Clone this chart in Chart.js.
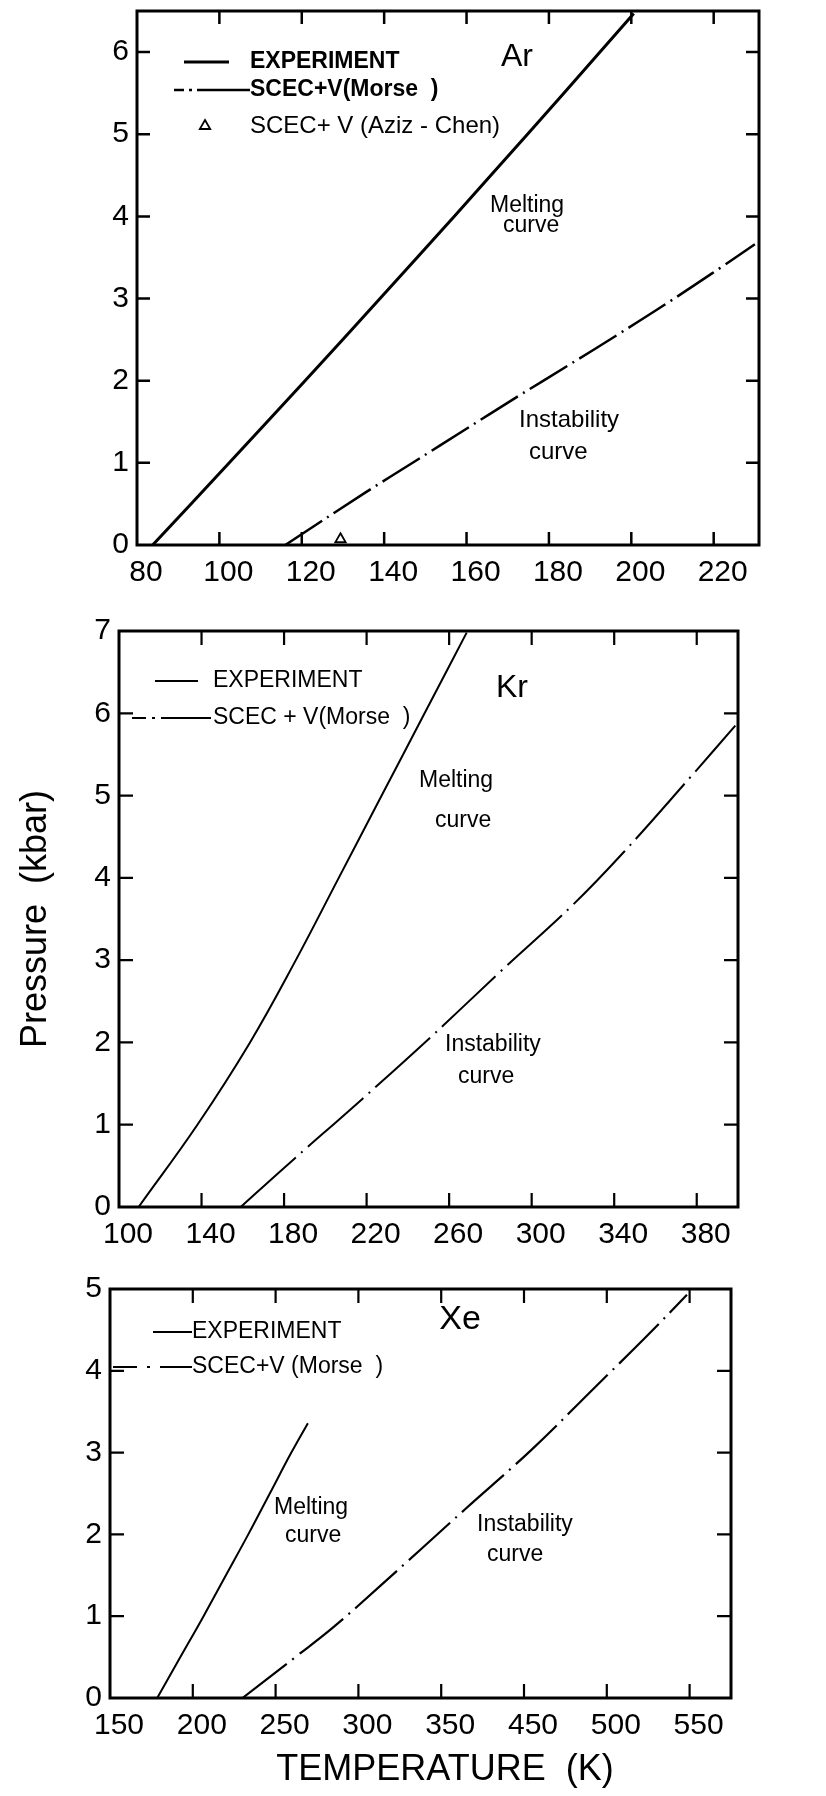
<!DOCTYPE html>
<html><head><meta charset="utf-8">
<script src="https://cdn.jsdelivr.net/npm/chart.js@4.4.1/dist/chart.umd.min.js"></script>
<style>
html,body{margin:0;padding:0;background:#fff;}
body{width:826px;height:1796px;position:relative;overflow:hidden;}
canvas{position:absolute;left:0;}
</style></head><body>
<canvas id="ar" width="826" height="610" style="top:0px"></canvas>
<canvas id="kr" width="826" height="640" style="top:610px"></canvas>
<canvas id="xe" width="826" height="546" style="top:1250px"></canvas>
<script>
// ---------- Ar ----------
const arMeltT = [83.8, 102.4, 120.8, 139.0, 157.0, 174.8, 192.4, 200.6];
const arMeltP = [0, 1, 2, 3, 4, 5, 6, 6.47];
const arInstT = [116, 135.5, 147.5, 159.5, 172.5, 184.5, 197, 209.5, 221.5, 230];
const arInstP = [0, 0.64, 1.02, 1.4, 1.81, 2.18, 2.57, 2.97, 3.37, 3.66];
const arAzizT = [129.4];
const arAzizP = [0.07];
const arXTicks = [80, 100, 120, 140, 160, 180, 200, 220];
const arYTicks = [0, 1, 2, 3, 4, 5, 6];
// ---------- Kr ----------
const krMeltT = [109.5, 138, 163.5, 185.7, 206.5, 227.3, 248.1, 268.5];
const krMeltP = [0, 1, 2, 3, 4, 5, 6, 6.98];
const krInstT = [159, 179.3, 218.2, 250.9, 284.8, 319.9, 344.9, 377.5, 398.7];
const krInstP = [0, 0.46, 1.32, 2.06, 2.86, 3.67, 4.32, 5.24, 5.85];
const krXTicks = [100, 140, 180, 220, 260, 300, 340, 380];
const krYTicks = [0, 1, 2, 3, 4, 5, 6, 7];
// ---------- Xe ----------
const xeMeltT = [178.5, 192.5, 206.5, 220, 233.5, 246.5, 259.5, 269.5];
const xeMeltP = [0, 0.5, 1, 1.5, 2, 2.5, 3, 3.36];
const xeInstT = [230, 261.9, 285.1, 313.7, 365.1, 404.8, 442.9, 473, 498.4];
const xeInstP = [0, 0.5, 0.87, 1.38, 2.32, 3.04, 3.8, 4.4, 4.93];
const xeXTicks = [150, 200, 250, 300, 350, 400, 450, 500];
const xeXTickLabels = ['150', '200', '250', '300', '350', '450', '500', '550'];
const xeYTicks = [0, 1, 2, 3, 4, 5];

const FONT = "'Liberation Sans', Arial, sans-serif";
Chart.defaults.font.family = FONT;
Chart.defaults.color = '#000';

const pts = (xs, ys) => xs.map((x, i) => ({x: x, y: ys[i]}));

const frameTicks = {
  id: 'frameTicks',
  afterDatasetsDraw(chart, args, o) {
    const {ctx, chartArea: a, scales: {x, y}} = chart;
    ctx.save();
    ctx.strokeStyle = '#000';
    ctx.lineWidth = o.tickWidth;
    ctx.beginPath();
    x.ticks.forEach(t => {
      if (t.value <= x.min || t.value >= x.max) return;
      const p = x.getPixelForValue(t.value);
      ctx.moveTo(p, a.bottom); ctx.lineTo(p, a.bottom - o.len);
      ctx.moveTo(p, a.top); ctx.lineTo(p, a.top + o.len);
    });
    y.ticks.forEach(t => {
      if (t.value <= y.min || t.value >= y.max) return;
      const p = y.getPixelForValue(t.value);
      ctx.moveTo(a.left, p); ctx.lineTo(a.left + o.len, p);
      ctx.moveTo(a.right, p); ctx.lineTo(a.right - o.len, p);
    });
    ctx.stroke();
    ctx.lineWidth = o.frameWidth;
    ctx.strokeRect(a.left, a.top, a.right - a.left, a.bottom - a.top);
    ctx.restore();
  }
};

const notes = {
  id: 'notes',
  afterDraw(chart, args, o) {
    const {ctx, chartArea: a} = chart;
    ctx.save();
    ctx.textBaseline = 'middle';
    ctx.fillStyle = '#000';
    ctx.strokeStyle = '#000';
    (o.legend || []).forEach(it => {
      const ds = chart.data.datasets[it.ds];
      const y = a.top + it.dy;
      if (it.marker !== undefined) {
        ctx.fillStyle = '#fff';
        ctx.lineWidth = ds.borderWidth;
        Chart.helpers.drawPoint(ctx, {pointStyle: ds.pointStyle, radius: ds.pointRadius, borderWidth: ds.borderWidth, rotation: 0}, a.left + it.marker, y);
        ctx.fillStyle = '#000';
      } else {
        ctx.lineWidth = ds.borderWidth;
        ctx.setLineDash(it.dash || []);
        ctx.beginPath();
        ctx.moveTo(a.left + it.seg[0], y);
        ctx.lineTo(a.left + it.seg[1], y);
        ctx.stroke();
        ctx.setLineDash([]);
      }
      ctx.font = it.font;
      ctx.textAlign = 'left';
      ctx.fillText(ds.label, a.left + it.text, y);
    });
    (o.texts || []).forEach(t => {
      ctx.font = t.font;
      ctx.textAlign = t.align || 'left';
      ctx.fillText(t.text, a.left + t.dx, a.top + t.dy);
    });
    ctx.restore();
  }
};

function xScale(min, max, tickVals, labels, h) {
  return {
    type: 'linear', min: min, max: max,
    afterBuildTicks: s => { s.ticks = tickVals.map(v => ({value: v})); },
    afterFit: s => { s.height = h; s.paddingLeft = 0; s.paddingRight = 0; },
    grid: {display: false, drawTicks: false},
    border: {display: false},
    ticks: {font: {size: 30}, color: '#000', padding: 10, labelOffset: 9,
            maxRotation: 0, autoSkip: false,
            callback: (v, i) => labels ? labels[i] : String(v)}
  };
}
function yScale(min, max, tickVals, w, title) {
  return {
    type: 'linear', min: min, max: max,
    afterBuildTicks: s => { s.ticks = tickVals.map(v => ({value: v})); },
    afterFit: s => { s.width = w; s.paddingTop = 0; s.paddingBottom = 0; },
    grid: {display: false, drawTicks: false},
    border: {display: false},
    ticks: {font: {size: 30}, color: '#000', padding: 8, autoSkip: false,
            callback: v => String(v)},
    title: title || {display: false}
  };
}
function lineDs(label, data, width, dash) {
  return {label: label, data: data, showLine: true, borderColor: '#000',
          backgroundColor: '#000', borderWidth: width, borderDash: dash || [],
          pointRadius: 0, tension: 0.4, fill: false};
}
function base(padding, plugOpts) {
  return {
    responsive: false, animation: false, devicePixelRatio: 1,
    layout: {padding: padding},
    plugins: {legend: {display: false}, tooltip: {enabled: false},
              frameTicks: plugOpts.frame, notes: plugOpts.notes}
  };
}

// ---------- Ar chart ----------
const arOpts = base({top: 11, left: 0, right: 67, bottom: 15}, {
  frame: {len: 13, tickWidth: 2.5, frameWidth: 3},
  notes: {
    legend: [
      {ds: 0, dy: 51, seg: [47, 92], text: 113, font: 'bold 23px ' + FONT},
      {ds: 1, dy: 79, seg: [37, 113], dash: [10, 5, 3, 5, 80], text: 113, font: 'bold 23px ' + FONT},
      {ds: 2, dy: 115, marker: 68, text: 113, font: '24px ' + FONT}
    ],
    texts: [
      {text: 'Ar', dx: 380, dy: 46, font: '32px ' + FONT, align: 'center'},
      {text: 'Melting', dx: 353, dy: 195, font: '23px ' + FONT},
      {text: 'curve', dx: 366, dy: 215, font: '23px ' + FONT},
      {text: 'Instability', dx: 382, dy: 409, font: '24px ' + FONT},
      {text: 'curve', dx: 392, dy: 441, font: '24px ' + FONT}
    ]
  }
});
arOpts.scales = {x: xScale(80, 231, arXTicks, null, 50), y: yScale(0, 6.5, arYTicks, 137)};
new Chart(document.getElementById('ar'), {
  type: 'scatter',
  data: {datasets: [
    lineDs('EXPERIMENT', pts(arMeltT, arMeltP), 3),
    lineDs('SCEC+V(Morse  )', pts(arInstT, arInstP), 2.5, [44, 6, 2, 6]),
    {label: 'SCEC+ V (Aziz - Chen)', data: pts(arAzizT, arAzizP), showLine: false,
     pointStyle: 'triangle', pointRadius: 6, borderWidth: 1.8,
     borderColor: '#000', backgroundColor: '#fff'}
  ]},
  options: arOpts,
  plugins: [frameTicks, notes]
});

// ---------- Kr chart ----------
const krOpts = base({top: 21, left: 0, right: 88, bottom: 3}, {
  frame: {len: 14, tickWidth: 2.2, frameWidth: 3},
  notes: {
    legend: [
      {ds: 0, dy: 50, seg: [36, 79], text: 94, font: '23px ' + FONT},
      {ds: 1, dy: 87, seg: [13, 92], dash: [14, 6, 3, 6, 80], text: 94, font: '23px ' + FONT}
    ],
    texts: [
      {text: 'Kr', dx: 393, dy: 57, font: '32px ' + FONT, align: 'center'},
      {text: 'Melting', dx: 300, dy: 150, font: '23px ' + FONT},
      {text: 'curve', dx: 316, dy: 190, font: '23px ' + FONT},
      {text: 'Instability', dx: 326, dy: 414, font: '23px ' + FONT},
      {text: 'curve', dx: 339, dy: 446, font: '23px ' + FONT}
    ]
  }
});
krOpts.scales = {
  x: xScale(100, 400, krXTicks, null, 40),
  y: yScale(0, 7, krYTicks, 119, {display: true, text: 'Pressure  (kbar)',
     font: {size: 36}, color: '#000', padding: {top: 14, bottom: 0}})
};
new Chart(document.getElementById('kr'), {
  type: 'scatter',
  data: {datasets: [
    lineDs('EXPERIMENT', pts(krMeltT, krMeltP), 2),
    lineDs('SCEC + V(Morse  )', pts(krInstT, krInstP), 2, [74, 7, 2, 7])
  ]},
  options: krOpts,
  plugins: [frameTicks, notes]
});

// ---------- Xe chart ----------
const xeOpts = base({top: 39, left: 0, right: 95, bottom: 38}, {
  frame: {len: 14, tickWidth: 2.2, frameWidth: 3},
  notes: {
    legend: [
      {ds: 0, dy: 43, seg: [43, 82], text: 82, font: '23px ' + FONT},
      {ds: 1, dy: 78, seg: [3, 82], dash: [24, 10, 3, 10, 60], text: 82, font: '23px ' + FONT}
    ],
    texts: [
      {text: 'Xe', dx: 350, dy: 31, font: '34px ' + FONT, align: 'center'},
      {text: 'Melting', dx: 164, dy: 219, font: '23px ' + FONT},
      {text: 'curve', dx: 175, dy: 247, font: '23px ' + FONT},
      {text: 'Instability', dx: 367, dy: 236, font: '23px ' + FONT},
      {text: 'curve', dx: 377, dy: 266, font: '23px ' + FONT},
      {text: 'TEMPERATURE  (K)', dx: 335, dy: 481, font: '36px ' + FONT, align: 'center'}
    ]
  }
});
xeOpts.scales = {x: xScale(150, 525, xeXTicks, xeXTickLabels, 60), y: yScale(0, 5, xeYTicks, 110)};
new Chart(document.getElementById('xe'), {
  type: 'scatter',
  data: {datasets: [
    lineDs('EXPERIMENT', pts(xeMeltT, xeMeltP), 2),
    lineDs('SCEC+V (Morse  )', pts(xeInstT, xeInstP), 2.2, [56, 7, 2, 7])
  ]},
  options: xeOpts,
  plugins: [frameTicks, notes]
});
</script>
</body></html>
